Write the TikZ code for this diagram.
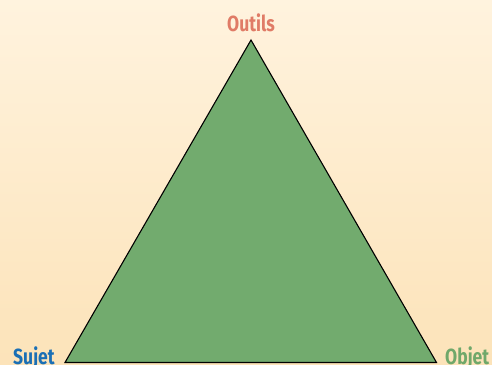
\documentclass[tikz,border=0pt]{standalone}
\usepackage{fontspec}
\newfontfamily\labfont[FakeStretch=0.8]{Fira Sans}
\definecolor{bgtop}{HTML}{FFF3DE}
\definecolor{bgbot}{HTML}{FCE3B9}
\definecolor{trifill}{HTML}{72AB6E}
\definecolor{outilsc}{HTML}{E07B66}
\definecolor{sujetc}{HTML}{1A6FB5}
\definecolor{objetc}{HTML}{6FA86A}
\tikzset{lab/.style={font=\labfont\bfseries\fontsize{22}{22}\selectfont, inner sep=0pt}}
\begin{document}
\begin{tikzpicture}[x=1bp,y=-1bp]
\shade[top color=bgtop, bottom color=bgbot] (0,0) rectangle (492,364);
\useasboundingbox (0,0) rectangle (492,364);
\coordinate (A) at (251,40);
\coordinate (B) at (65,362.5);
\coordinate (C) at (436.5,362.5);
\draw[fill=trifill, line width=1.1bp, line join=miter] (A) -- (B) -- (C) -- cycle;
\node[lab, text=outilsc, anchor=base] (outils) at (251,31) {Outils};
\node[lab, text=sujetc, anchor=base west] (sujet) at (13,364) {Sujet};
\node[lab, text=objetc, anchor=base west] (objet) at (445,364) {Objet};
\end{tikzpicture}
\end{document}
